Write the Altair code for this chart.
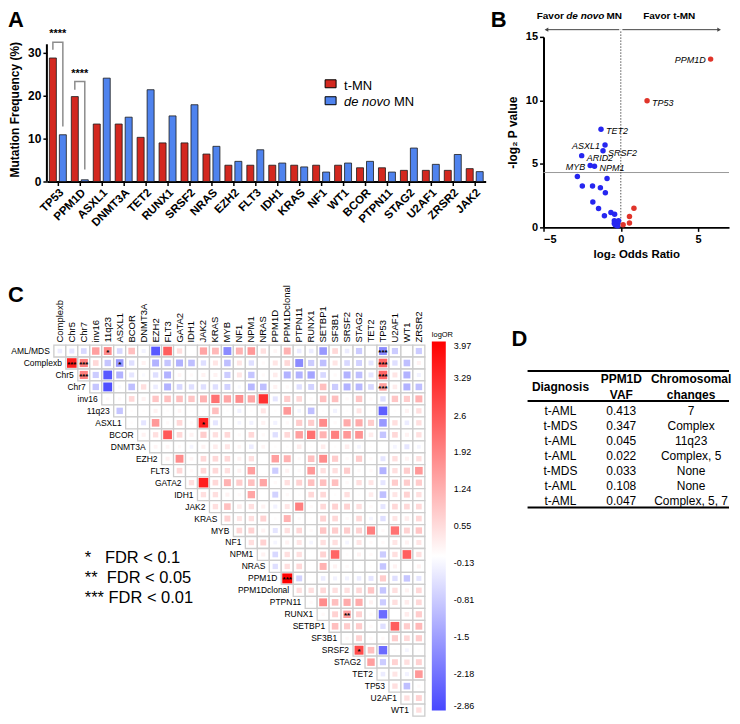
import altair as alt
import pandas as pd

FONT = "Liberation Sans"
RED_BAR = "#d3281f"
BLUE_BAR = "#4f83ee"
RED_PT = "#e0342a"
BLUE_PT = "#2626f0"

# ---------------- Panel A data ----------------
genes_a = ["TP53", "PPM1D", "ASXL1", "DNMT3A", "TET2", "RUNX1", "SRSF2", "NRAS", "EZH2", "FLT3",
           "IDH1", "KRAS", "NF1", "WT1", "BCOR", "PTPN11", "STAG2", "U2AF1", "ZRSR2", "JAK2"]
tmn_freq = [28.8, 19.8, 13.4, 13.4, 10.3, 9.0, 9.0, 6.4, 3.8, 3.8,
            3.8, 3.8, 3.8, 3.8, 3.2, 3.2, 2.6, 2.6, 2.6, 3.0]
denovo_freq = [10.9, 0.4, 24.1, 15.0, 21.4, 15.3, 17.9, 8.2, 4.7, 7.4,
               4.3, 3.4, 2.2, 4.3, 4.7, 2.2, 7.8, 4.0, 6.3, 2.3]
groups_a = ["t-MN", "de novo MN"]
sig_genes = ["TP53", "PPM1D"]
sig_labels = ["****", "****"]
sig_label_y = [34.3, 25.1]
bracket_low_tmn = [30.7, 21.4]
bracket_top = [32.5, 23.3]
bracket_low_denovo = [12.8, 2.8]
axis_top_a = 32

# ---------------- Panel B data ----------------
b_lor = [5.81, 1.70, 0.85, 0.56, 0.56, 0.15,
         -1.28, -1.02, -1.15, -2.53, -1.98, -1.70, -2.81, -0.89, -2.49, -1.83, -1.32, -1.00,
         -1.81, -1.44, -0.64, -0.40, -1.06, -0.42, -0.30, -0.21, -0.36, -0.21, -0.42, -0.15]
b_nlp = [13.25, 9.97, 1.51, 0.86, 0.34, 0.21,
         7.73, 6.48, 6.04, 5.65, 4.87, 4.81, 4.01, 3.85, 3.25, 3.25, 3.12, 2.73,
         2.00, 1.48, 1.17, 1.04, 0.91, 0.52, 0.44, 0.31, 0.18, 0.10, 0.31, 0.52]
b_label = ["PPM1D", "TP53", "", "", "", "",
           "TET2", "ASXL1", "SRSF2", "ARID2", "MYB", "NPM1", "", "", "", "", "", "",
           "", "", "", "", "", "", "", "", "", "", "", ""]
b_left_labels = ["PPM1D", "ASXL1", "MYB"]
threshold_y = 4.32
arrow_y = 15.57
arrow_left_end = -4.81
arrow_right_end = 6.36
favor_y = 16.66

# ---------------- Panel C data ----------------
rows_c = ["AML/MDS", "Complexb", "Chr5", "Chr7", "inv16", "11q23", "ASXL1", "BCOR", "DNMT3A", "EZH2",
          "FLT3", "GATA2", "IDH1", "JAK2", "KRAS", "MYB", "NF1", "NPM1", "NRAS", "PPM1D",
          "PPM1Dclonal", "PTPN11", "RUNX1", "SETBP1", "SF3B1", "SRSF2", "STAG2", "TET2", "TP53",
          "U2AF1", "WT1"]
cols_c = ["Complexb", "Chr5", "Chr7", "inv16", "11q23", "ASXL1", "BCOR", "DNMT3A", "EZH2", "FLT3",
          "GATA2", "IDH1", "JAK2", "KRAS", "MYB", "NF1", "NPM1", "NRAS", "PPM1D", "PPM1Dclonal",
          "PTPN11", "RUNX1", "SETBP1", "SF3B1", "SRSF2", "STAG2", "TET2", "TP53", "U2AF1", "WT1",
          "ZRSR2"]
# logOR, row by row (upper triangle, starting at the diagonal column)
lor_aml_mds = [-0.3, -0.4, -0.6, 1.5, 1.8, -0.6, 1.0, -0.2, -2.6, 2.5, 0.5, 0, 1.4, 1.1, -1.8, 1.2,
               1.6, 0.5, 0.15, 1.2, -0.3, -0.3, -1.6, 0.6, -0.3, -0.8, 0, -1.8, -0.8, 0, -0.8]
lor_complexb = [3.5, 2.0, 0.6, -0.9, -1.6, -0.5, 0.2, -1.2, -0.9, -1.2, -1.0, -0.5, 0.4, -1.0, 0.4,
                -0.5, 0.1, 0.4, 0.6, -1.8, -0.8, -1.0, 0.4, -0.6, -0.7, -0.4, 2.4, -0.5, -1.0, 0.2]
lor_chr5 = [2.0, -0.8, -2.6, -1.2, -0.4, -0.1, -0.5, -1.2, 0.15, 0.1, 0.2, 0.2, -0.8, 0.4, -0.9,
            0.1, 0.3, -1.2, -1.2, -1.4, -0.6, 0.1, -1.2, -1.0, -0.4, 2.4, 0.4, -1.2, -0.2]
lor_chr7 = [-0.9, -2.7, -0.1, -1.0, 0.5, -0.3, -1.2, -0.6, -0.5, -0.5, -0.5, -0.7, -0.1, -1.1,
            -1.0, 0.2, 0.1, -0.5, -0.7, 1.0, -0.8, -1.2, -1.1, -0.6, 1.5, 0.3, -1.2, -1.0]
lor_inv16 = [0.1, 0.1, 0.6, 0.2, 0.9, 1.0, 1.0, 0.9, 1.2, 2.2, 1.4, 1.8, 1.4, 3.2, -0.4, 0.8, 0.6,
             0.1, 1.0, 1.0, 0.1, 0.9, 0.1, -0.5, 0.9, 0.8, 1.2]
lor_11q23 = [-0.9, 0.05, 0.05, 0.2, 0.05, 0.15, 0.05, 0.05, 1.0, 0.05, -0.2, 0.05, 0.4, 0.05, 1.6,
             -0.15, -1.0, 0.05, -0.2, 0.05, 0.4, 0.05, -2.5, 0.05, 0.2, 0.5]
lor_asxl1 = [0.05, -0.4, 1.6, 0.1, 0.6, 0.1, 3.5, -0.4, 0.05, -0.15, -0.2, 0.2, -0.2, 0.1, 0.8,
             0.8, 1.8, 0.1, 1.3, 1.3, 0.8, -1.6, 0.5, -0.3, 0.5]
lor_bcor = [0.2, 0.5, 2.6, 0.6, 0.2, 0.8, 0.5, 0.6, 0.1, 0.6, 0.1, -0.5, 0.6, 1.5, 2.2, 1.2, 2.0,
            1.6, 1.7, 0.3, -0.9, 0.6, 0.2, 0.5]
lor_dnmt3a = [0.15, 0.15, 0.1, -0.15, 0.2, 0.3, 0.4, 0.15, -0.3, 0.15, 0.05, 0.05, 0.3, 0.05, 0.3,
              0.05, 0.3, -0.15, 0.05, 0, -0.15, -0.4, -0.15]
lor_ezh2 = [0.2, 1.8, 0.15, 0.6, 0.6, 0.6, 0.2, 0.5, 0, 1.5, 1.2, 0.1, 1.0, 1.8, 0.8, 0.1, 0.8,
            0.1, -0.4, 0.5, 0.2, 0.5]
lor_flt3 = [0.6, 0.1, 0.6, 0.6, 0.5, 0.2, 1.5, 0, -0.8, 0.2, 0.1, 1.6, 0.5, 0.5, 0.8, 0.1, 0.1,
            -1.2, 0.5, 0.8, 1.6]
lor_gata2 = [0.5, 3.5, 0.6, 1.2, 0.8, 1.0, 1.4, 0.1, 0.5, 0.7, 1.0, 1.0, 1.0, 0.1, 0.5, 0.4, -0.4,
             0.8, 0.8, 0.8]
lor_idh1 = [0.5, 0.5, 0.2, 0.1, 1.4, 0, -0.7, 0.1, 0.05, 0.6, 0.6, 0.05, 0.5, 0.05, 0.3, -1.0, 0.4,
            0.7, 0.5]
lor_jak2 = [0.5, 1.0, 0.3, 0.5, 0.2, -0.2, 0.4, 2.0, 0.1, 0.6, 0.7, 0.7, 0.5, 0.1, -0.4, 0.6, 0.6,
            0.6]
lor_kras = [0.7, 0.4, 0.5, 0.7, 0.05, 1.2, 0.1, 0.05, 0.7, 0.6, 0.1, 0.6, -0.15, -0.5, 0.4, 0.3,
            0.6]
lor_myb = [0.6, 0.7, 0.2, -0.4, 0.5, 0.6, 0.1, 0.9, 0.8, 0.8, 0.7, 2.0, 0.1, 2.2, 0.7, 0.9]
lor_nf1 = [0.5, 0.7, -0.15, 0.2, 0.4, -0.15, 0.5, 0.5, -0.15, 0.4, 0.1, 0.1, 0.4, 0.2, 0.4]
lor_npm1 = [0.2, -0.6, 0.5, 0.5, 0, 0.7, 2.4, 0.05, 0.2, 0.1, -0.8, 0.5, 2.5, 0.5]
lor_nras = [-0.5, 0.5, 0.6, 0, 1.2, 0.2, 0.1, 0.05, 0.05, -0.9, 0.2, 0, 0.2]
lor_ppm1d = [3.97, -0.7, 0, -0.3, -0.2, -0.2, -0.3, -0.4, 0.8, -0.5, -0.9, -0.4]
lor_ppm1dclonal = [0.5, 0.5, 0.6, 0.5, 0.5, 0.6, 0.9, -0.9, 0.5, 0.2, 0.6]
lor_ptpn11 = [0.1, 1.8, 1.0, 1.3, 1.3, 0.2, -0.8, 0.5, 0.3, 0.6]
lor_runx1 = [0.1, 0.7, 1.5, 0.7, 0.1, -2.3, 0, 0.3, 0.8]
lor_setbp1 = [1.0, 0.8, 0.8, 0.1, -0.5, 2.5, 0.8, 1.1]
lor_sf3b1 = [0.1, 0.7, 0.1, 0.1, 0.8, 0.6, 0.8]
lor_srsf2 = [2.8, 1.0, -2.3, 0.05, -0.15, 0.05]
lor_stag2 = [1.5, -0.8, 0.7, 0.5, 0.7]
lor_tet2 = [-0.3, 0.4, -0.2, 1.6]
lor_tp53 = [0.5, -1.0, 0.1]
lor_u2af1 = [0.5, 0.7]
lor_wt1 = [0.5]
logor_rows = [lor_aml_mds, lor_complexb, lor_chr5, lor_chr7, lor_inv16, lor_11q23, lor_asxl1,
              lor_bcor, lor_dnmt3a, lor_ezh2, lor_flt3, lor_gata2, lor_idh1, lor_jak2, lor_kras,
              lor_myb, lor_nf1, lor_npm1, lor_nras, lor_ppm1d, lor_ppm1dclonal, lor_ptpn11,
              lor_runx1, lor_setbp1, lor_sf3b1, lor_srsf2, lor_stag2, lor_tet2, lor_tp53,
              lor_u2af1, lor_wt1]
sig_rows_c = ["AML/MDS", "AML/MDS", "Complexb", "Complexb", "Complexb", "Complexb", "Chr5", "Chr5",
              "Chr7", "ASXL1", "PPM1D", "RUNX1", "SRSF2"]
sig_cols_c = ["11q23", "TP53", "Chr5", "Chr7", "ASXL1", "TP53", "Chr7", "TP53",
              "TP53", "JAK2", "PPM1Dclonal", "SRSF2", "STAG2"]
sig_marks_c = ["*", "***", "***", "***", "*", "***", "***", "***", "***", "*", "***", "**", "*"]
legend_min, legend_max = -2.86, 3.97
legend_ticks = [3.97, 3.29, 2.6, 1.92, 1.24, 0.55, -0.13, -0.81, -1.5, -2.18, -2.86]
fdr_lines = ["*\u00a0\u00a0\u00a0FDR < 0.1", "**\u00a0\u00a0FDR < 0.05", "***\u00a0FDR < 0.01"]

# ---------------- Panel D data ----------------
d_headers = ["Diagnosis", "PPM1D\nVAF", "Chromosomal\nchanges"]
d_diag = ["t-AML", "t-MDS", "t-AML", "t-AML", "t-MDS", "t-AML", "t-AML"]
d_vaf = ["0.413", "0.347", "0.045", "0.022", "0.033", "0.108", "0.047"]
d_chrom = ["7", "Complex", "11q23", "Complex, 5", "None", "None", "Complex, 5, 7"]

one = pd.DataFrame({"k": [0]})


def letter(txt, x, y):
    return alt.Chart(one).mark_text(text=txt, font=FONT, fontSize=22, fontWeight="bold",
                                    align="left", baseline="alphabetic", color="black").encode(
        x=alt.value(x), y=alt.value(y))


# ================= Panel A =================
df_a = pd.DataFrame({
    "gene": genes_a * 2,
    "grp": [groups_a[0]] * len(genes_a) + [groups_a[1]] * len(genes_a),
    "freq": tmn_freq + denovo_freq,
})
x_a = alt.X("gene:N", sort=genes_a,
            scale=alt.Scale(domain=genes_a, paddingInner=0.227, paddingOuter=0.1135),
            axis=alt.Axis(title=None, labelAngle=-45, labelFont=FONT, labelFontWeight="bold",
                          labelFontSize=11.5, labelColor="black", domainColor="black",
                          domainWidth=2, tickColor="black", tickWidth=1.5, tickSize=4,
                          labelPadding=1, labelOverlap=False))
y_scale_a = alt.Scale(domain=[0, 33.72], nice=False)
y_a = alt.Y("freq:Q", scale=y_scale_a,
            axis=alt.Axis(values=[0, 10, 20, 30], title="Mutation Frequency (%)", titleFont=FONT,
                          titleFontSize=12, titleFontWeight="bold", titleColor="black",
                          labelFont=FONT, labelFontWeight="bold", labelFontSize=12,
                          labelColor="black", domain=False, tickColor="black", tickWidth=1.5,
                          tickSize=4, grid=False, titlePadding=6))
xoff_a = alt.XOffset("grp:N", sort=groups_a,
                     scale=alt.Scale(domain=groups_a, paddingInner=0.3, paddingOuter=0))
color_a = alt.Color("grp:N", scale=alt.Scale(domain=groups_a, range=[RED_BAR, BLUE_BAR]),
                    legend=None)

bars_a = alt.Chart(df_a).mark_bar(stroke="#1a1a1a", strokeWidth=0.8).encode(
    x=x_a, xOffset=xoff_a, y=y_a, color=color_a)
yline_a = alt.Chart(one).mark_rule(color="black", strokeWidth=2).encode(
    x=alt.value(0), y=alt.datum(0), y2=alt.datum(axis_top_a))

br_rows = []
for k, g in enumerate(sig_genes):
    pts = [(groups_a[0], bracket_low_tmn[k]), (groups_a[0], bracket_top[k]),
           (groups_a[1], bracket_top[k]), (groups_a[1], bracket_low_denovo[k])]
    for o, (gr, yv) in enumerate(pts):
        br_rows.append({"gene": g, "grp": gr, "freq": yv, "bid": g, "ord": o})
df_br = pd.DataFrame(br_rows)
brackets_a = alt.Chart(df_br).mark_line(color="#8c8c8c", strokeWidth=1.5).encode(
    x=alt.X("gene:N", sort=genes_a), xOffset=alt.XOffset("grp:N", sort=groups_a),
    y=alt.Y("freq:Q"), detail="bid:N", order="ord:Q")
df_sig = pd.DataFrame({"gene": sig_genes, "freq": sig_label_y, "lab": sig_labels})
stars_a = alt.Chart(df_sig).mark_text(font=FONT, fontSize=11, fontWeight="bold",
                                      color="black").encode(
    x=alt.X("gene:N", sort=genes_a), y=alt.Y("freq:Q"), text="lab:N")

leg_a = [
    alt.Chart(one).mark_rect(color=RED_BAR, stroke="black", strokeWidth=1).encode(
        x=alt.value(279), x2=alt.value(290), y=alt.value(43), y2=alt.value(51)),
    alt.Chart(one).mark_rect(color=BLUE_BAR, stroke="black", strokeWidth=1).encode(
        x=alt.value(279), x2=alt.value(290), y=alt.value(60), y2=alt.value(68)),
    alt.Chart(one).mark_text(text="t-MN", font=FONT, fontSize=13, align="left",
                             baseline="middle", color="black").encode(
        x=alt.value(298), y=alt.value(49)),
    alt.Chart(one).mark_text(text="de novo", font=FONT, fontSize=13, fontStyle="italic",
                             align="left", baseline="middle", color="black").encode(
        x=alt.value(298), y=alt.value(65)),
    alt.Chart(one).mark_text(text="MN", font=FONT, fontSize=13, align="left",
                             baseline="middle", color="black").encode(
        x=alt.value(348), y=alt.value(65)),
]
panel_a = alt.layer(bars_a, yline_a, brackets_a, stars_a, *leg_a,
                    letter("A", -39, -10)).properties(width=440, height=145)

# ================= Panel B =================
df_b = pd.DataFrame({"lor": b_lor, "nlp": b_nlp, "lab": b_label})
x_b = alt.X("lor:Q", scale=alt.Scale(domain=[-5, 7], nice=False, zero=False),
            axis=alt.Axis(values=[-5, 0, 5], title="log\u2082 Odds Ratio", titleFont=FONT,
                          titleFontSize=11.5, titleFontWeight="bold", titleColor="black",
                          labelFont=FONT, labelFontSize=11, labelFontWeight="bold",
                          labelColor="black", domainColor="black", domainWidth=2,
                          tickColor="black", tickWidth=1.5, tickSize=4, grid=False,
                          titlePadding=4))
y_b = alt.Y("nlp:Q", scale=alt.Scale(domain=[0, 15], nice=False),
            axis=alt.Axis(values=[0, 5, 10, 15], title="-log\u2082 P value", titleFont=FONT,
                          titleFontSize=12, titleFontWeight="bold", titleColor="black",
                          labelFont=FONT, labelFontSize=11, labelFontWeight="bold",
                          labelColor="black", domainColor="black", domainWidth=2,
                          tickColor="black", tickWidth=1.5, tickSize=4, grid=False,
                          titlePadding=6))
pts_b = alt.Chart(df_b).transform_calculate(
    dirn="datum.lor > 0 ? 'up' : 'down'").mark_circle(size=30, opacity=1).encode(
    x=x_b, y=y_b,
    color=alt.Color("dirn:N", scale=alt.Scale(domain=["up", "down"], range=[RED_PT, BLUE_PT]),
                    legend=None))
lab_r = alt.Chart(df_b).transform_filter(
    alt.FieldOneOfPredicate(field="lab", oneOf=[l for l in b_label if l and l not in b_left_labels])
).mark_text(font=FONT, fontSize=9, fontStyle="italic", align="left", dx=5, dy=2,
            color="black").encode(x="lor:Q", y="nlp:Q", text="lab:N")
lab_l = alt.Chart(df_b).transform_filter(
    alt.FieldOneOfPredicate(field="lab", oneOf=b_left_labels)
).mark_text(font=FONT, fontSize=9, fontStyle="italic", align="right", dx=-5, dy=1,
            color="black").encode(x="lor:Q", y="nlp:Q", text="lab:N")
vline_b = alt.Chart(one).mark_rule(color="#555555", strokeWidth=1, strokeDash=[1.5, 1.5]).encode(
    x=alt.datum(0), y=alt.datum(0), y2=alt.datum(arrow_y))
hline_b = alt.Chart(one).mark_rule(color="#9a9a9a", strokeWidth=1).encode(
    y=alt.datum(threshold_y), x=alt.datum(-5), x2=alt.datum(7))
arr_l = alt.Chart(one).mark_rule(color="#444444", strokeWidth=1).encode(
    x=alt.datum(-0.1), x2=alt.datum(arrow_left_end), y=alt.datum(arrow_y))
arr_r = alt.Chart(one).mark_rule(color="#444444", strokeWidth=1).encode(
    x=alt.datum(0.1), x2=alt.datum(arrow_right_end), y=alt.datum(arrow_y))
head_l = alt.Chart(one).mark_point(shape="triangle-left", filled=True, size=18,
                                   color="#444444", opacity=1).encode(
    x=alt.datum(arrow_left_end), y=alt.datum(arrow_y))
head_r = alt.Chart(one).mark_point(shape="triangle-right", filled=True, size=18,
                                   color="#444444", opacity=1).encode(
    x=alt.datum(arrow_right_end), y=alt.datum(arrow_y))
fav1 = alt.Chart(one).mark_text(text="Favor", font=FONT, fontSize=10, fontWeight="bold",
                                align="left", baseline="middle", color="black").encode(
    x=alt.datum(-5.44), y=alt.datum(favor_y))
fav2 = alt.Chart(one).mark_text(text="de novo", font=FONT, fontSize=10, fontWeight="bold",
                                fontStyle="italic", align="left", baseline="middle",
                                color="black").encode(
    x=alt.datum(-3.53), y=alt.datum(favor_y))
fav3 = alt.Chart(one).mark_text(text="MN", font=FONT, fontSize=10, fontWeight="bold",
                                align="left", baseline="middle", color="black").encode(
    x=alt.datum(-0.93), y=alt.datum(favor_y))
fav4 = alt.Chart(one).mark_text(text="Favor t-MN", font=FONT, fontSize=10, fontWeight="bold",
                                align="left", baseline="middle", color="black").encode(
    x=alt.datum(1.45), y=alt.datum(favor_y))
panel_b = alt.layer(hline_b, vline_b, arr_l, arr_r, head_l, head_r, pts_b, lab_r, lab_l,
                    fav1, fav2, fav3, fav4, letter("B", -53, -10)).properties(width=186, height=191)

# ================= Panel C =================
recs = []
for i, (r, vals) in enumerate(zip(rows_c, logor_rows)):
    for k, v in enumerate(vals):
        recs.append({"row": r, "col": cols_c[i + k], "v": v})
df_c = pd.DataFrame(recs)
df_rowlab = pd.DataFrame({"row": rows_c, "col": cols_c[:len(rows_c)]})
df_sigc = pd.DataFrame({"row": sig_rows_c, "col": sig_cols_c, "m": sig_marks_c})

x_scale_c = alt.Scale(domain=cols_c, range=[7, 379], paddingInner=0, paddingOuter=0)
y_scale_c = alt.Scale(domain=rows_c, paddingInner=0, paddingOuter=0)

cells_c = alt.Chart(df_c).mark_rect(fill="white", stroke="#cccccc", strokeWidth=1.3).encode(
    x=alt.X("col:N", scale=x_scale_c,
            axis=alt.Axis(orient="top", labelAngle=-90, labelFont=FONT, labelFontSize=9.5,
                          labelColor="black", domain=False, ticks=False, labelPadding=3,
                          title=None, labelOverlap=False)),
    y=alt.Y("row:N", scale=y_scale_c, axis=None))
sq_c = alt.Chart(df_c).transform_calculate(a="abs(datum.v)").mark_square(opacity=1).encode(
    x=alt.X("col:N", scale=x_scale_c),
    y=alt.Y("row:N", scale=y_scale_c),
    size=alt.Size("a:Q", scale=alt.Scale(type="pow", exponent=0.6, domain=[0, 3.97],
                                         range=[0, 100]), legend=None),
    color=alt.Color("v:Q",
                    scale=alt.Scale(domain=[legend_min, 0, legend_max],
                                    range=["#4747ff", "#ffffff", "#ff0000"], interpolate="rgb"),
                    legend=alt.Legend(orient="none", legendX=386, legendY=-14,
                                      direction="vertical", gradientLength=370,
                                      gradientThickness=14, title="logOR", titleFont=FONT,
                                      titleFontSize=7.5, titleFontWeight="normal",
                                      titleColor="black", titlePadding=3, labelFont=FONT,
                                      labelFontSize=9, labelColor="black", values=legend_ticks,
                                      labelExpr="toString(datum.value)",
                                      labelOverlap=False, labelOffset=8, padding=0,
                                      gradientStrokeWidth=0)))
sig_c = alt.Chart(df_sigc).mark_text(font=FONT, fontSize=8, fontWeight="bold", color="black",
                                     dy=2).encode(
    x=alt.X("col:N", scale=x_scale_c), y=alt.Y("row:N", scale=y_scale_c), text="m:N")
rowlab_c = alt.Chart(df_rowlab).mark_text(font=FONT, fontSize=8.5, align="right",
                                          baseline="middle", dx=-10, color="black").encode(
    x=alt.X("col:N", scale=x_scale_c), y=alt.Y("row:N", scale=y_scale_c), text="row:N")
fdr_c = [alt.Chart(one).mark_text(text=t, font=FONT, fontSize=16.5, align="left",
                                  baseline="middle", color="black").encode(
    x=alt.value(38), y=alt.value(214 + 20 * i)) for i, t in enumerate(fdr_lines)]
panel_c = alt.layer(cells_c, sq_c, sig_c, rowlab_c, *fdr_c,
                    letter("C", -39, -43)).properties(width=440, height=372)

# ================= Panel D =================
df_d = pd.DataFrame({"r": list(range(len(d_diag))), "diag": d_diag, "vaf": d_vaf,
                     "chrom": d_chrom})
y_d = alt.Y("r:Q", scale=alt.Scale(domain=[0, len(d_diag) - 1], range=[66, 156]), axis=None)
col_x = [17, 78, 148]
body_d = [alt.Chart(df_d).mark_text(font=FONT, fontSize=12, color="black").encode(
    x=alt.value(cx), y=y_d, text=f"{fld}:N") for cx, fld in zip(col_x, ["diag", "vaf", "chrom"])]
head_y = [42, 34, 34]
head_d = [alt.Chart(one).mark_text(text=h, font=FONT, fontSize=12, fontWeight="bold",
                                   lineBreak="\n", lineHeight=16, baseline="middle",
                                   color="black").encode(
    x=alt.value(cx), y=alt.value(hy)) for cx, h, hy in zip(col_x, d_headers, head_y)]
rules_d = [alt.Chart(one).mark_rule(color="black", strokeWidth=sw).encode(
    x=alt.value(-16), x2=alt.value(186), y=alt.value(yy)) for yy, sw in [(26, 2), (56, 2), (163, 2)]]
panel_d = alt.layer(*rules_d, *head_d, *body_d, letter("D", -32, 1)).properties(width=186, height=170)

chart = alt.concat(panel_a, panel_b, panel_c, panel_d, columns=2,
                   spacing={"row": 118, "column": 58}, bounds="flush").resolve_scale(
    color="independent", size="independent"
).properties(
    padding={"left": 0, "top": 0, "right": 0, "bottom": 0}, background="white"
).configure_view(stroke=None)

chart.save("out.html", embed_options={"renderer": "svg", "actions": False})
